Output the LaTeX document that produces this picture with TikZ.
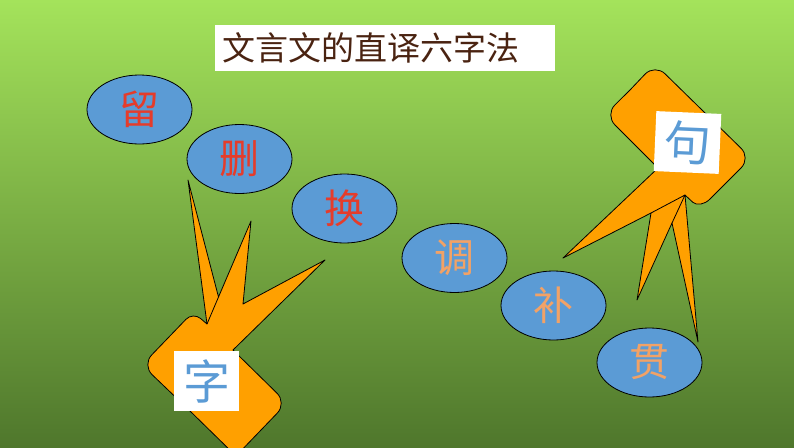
\documentclass[tikz,border=0pt]{standalone}
\usepackage{fontspec}
\newfontfamily\cjk{Noto Sans CJK SC}
\usepackage{tikz}
\usetikzlibrary{shapes.geometric,calc}
\definecolor{bgtop}{HTML}{A4E35B}
\definecolor{bgmid}{HTML}{82BC48}
\definecolor{bgbot}{HTML}{4F772C}
\definecolor{ovalblue}{HTML}{5B9BD5}
\definecolor{wordred}{HTML}{E53C2B}
\definecolor{wordorange}{HTML}{F2A266}
\definecolor{calloutorange}{HTML}{FFA000}
\definecolor{titlebrown}{HTML}{4A2311}
\tikzset{font=\cjk}
\tikzset{WordOval/.style={ellipse, draw=black, line width=.8pt, fill=ovalblue,
    minimum width=105pt, minimum height=69pt, inner sep=0pt,
    font=\cjk\fontsize{40}{40}\selectfont}}
\tikzset{CallOut/.style={draw=black, line width=.8pt, fill=calloutorange,
    line join=round}}
\tikzset{LabelBox/.style={fill=white, minimum width=65pt, minimum height=60pt,
    inner sep=0pt, text=ovalblue, font=\cjk\fontsize{47}{47}\selectfont}}

\begin{document}
\begin{tikzpicture}[x=1pt,y=-1pt]
  \shade[top color=bgtop, middle color=bgmid, bottom color=bgbot]
  (0,0) rectangle (794,447);
  \useasboundingbox (0,0) rectangle (794,447);

  % callout round zi
  \coordinate (l0) at (189,410);
  \coordinate (l1) at (142,365);
  \coordinate (l2) at (193,312);
  \coordinate (l3) at (207,324);
  \coordinate (l4) at (325,260);
  \coordinate (l5) at (233,350);
  \coordinate (l6) at (287,403);
  \coordinate (l7) at (236,456);
  \coordinate (l8) at (188,180);
  \coordinate (l9) at (218.5,297);
  \coordinate (l10) at (251,221);
  \coordinate (l11) at (243,304);

  \draw[CallOut] (l0)
  -- ($(l1)!14pt!(l0)$) .. controls ($(l1)!6.3pt!(l0)$) and ($(l1)!6.3pt!(l2)$) .. ($(l1)!14pt!(l2)$)
  -- ($(l2)!10pt!(l1)$) .. controls ($(l2)!4.5pt!(l1)$) and ($(l2)!4.5pt!(l3)$) .. ($(l2)!10pt!(l3)$)
  -- (l3) -- (l8) -- (l9) -- (l10) -- (l11) -- (l4) -- (l5)
  -- ($(l6)!14pt!(l5)$) .. controls ($(l6)!6.3pt!(l5)$) and ($(l6)!6.3pt!(l7)$) .. ($(l6)!14pt!(l7)$)
  -- (l7) -- cycle;
  \draw[line width=.8pt] (l3) -- (l9);

  % callout round ju
  \coordinate (r0) at (630,90);
  \coordinate (r1) at (605,115);
  \coordinate (r2) at (658,168);
  \coordinate (r3) at (563,258);
  \coordinate (r4) at (651,213);
  \coordinate (r5) at (637,300);
  \coordinate (r6) at (672,223);
  \coordinate (r7) at (698,342);
  \coordinate (r8) at (685,195);
  \coordinate (r9) at (700,209);
  \coordinate (r10) at (751,158);
  \coordinate (r11) at (655,64);

  \draw[CallOut] (r0)
  -- ($(r1)!14pt!(r11)$) .. controls ($(r1)!6.3pt!(r11)$) and ($(r1)!6.3pt!(r2)$) .. ($(r1)!14pt!(r2)$)
  -- (r2) -- (r3) -- (r4) -- (r5) -- (r6) -- (r7) -- (r8)
  -- ($(r9)!10pt!(r8)$) .. controls ($(r9)!4.5pt!(r8)$) and ($(r9)!6.3pt!(r10)$) .. ($(r9)!14pt!(r10)$)
  -- ($(r10)!14pt!(r9)$) .. controls ($(r10)!6.3pt!(r9)$) and ($(r10)!6.3pt!(r11)$) .. ($(r10)!14pt!(r11)$)
  -- ($(r11)!14pt!(r10)$) .. controls ($(r11)!6.3pt!(r10)$) and ($(r11)!6.3pt!(r1)$) .. ($(r11)!14pt!(r1)$)
  -- cycle;
  \draw[line width=.8pt] (r4) -- (r8) (r6) -- (r8);

  \node (zi) [LabelBox] at (206.5,381) {字};
  \node (ju) [LabelBox, rotate=-2.5] at (687.5,142.5) {句};

  \node (liu) [WordOval, text=wordred] at (139.5,109.5) {留};
  \node (shan) [WordOval, text=wordred] at (239.5,159) {删};
  \node (huan) [WordOval, text=wordred] at (344.5,208.5) {换};
  \node (diao) [WordOval, text=wordorange] at (454.5,258) {调};
  \node (bu) [WordOval, text=wordorange] at (553.5,305.5) {补};
  \node (guan) [WordOval, text=wordorange] at (649.5,362.5) {贯};

  \node (title) [fill=white, anchor=north west, minimum width=340pt,
  minimum height=46pt, text width=326pt, inner xsep=7pt, inner ysep=0pt,
  align=left, text=titlebrown, font=\cjk\fontsize{33}{33}\selectfont]
  at (215,25) {文言文的直译六字法};
\end{tikzpicture}
\end{document}
